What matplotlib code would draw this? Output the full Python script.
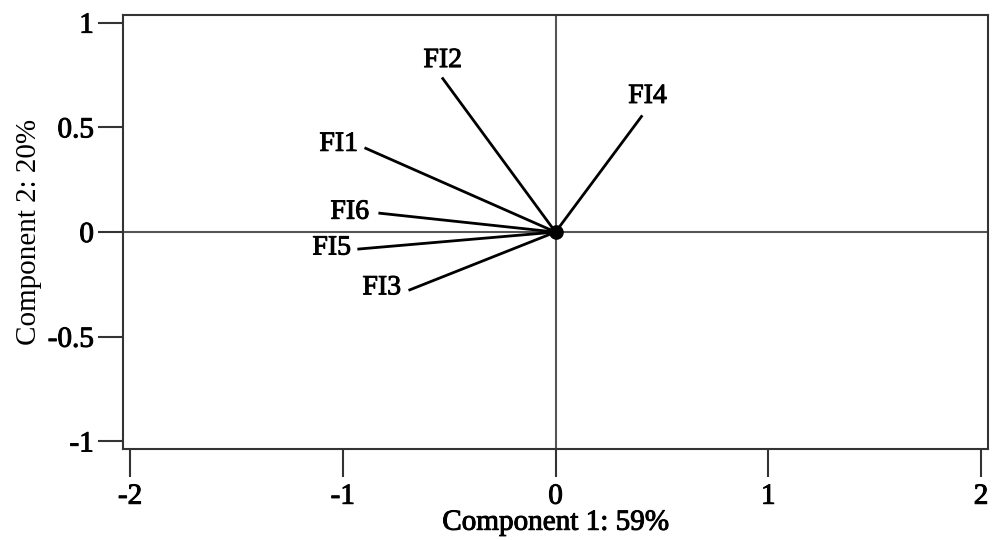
import matplotlib.pyplot as plt
import matplotlib.patheffects as pe

# loadings
names = ['FI1', 'FI2', 'FI3', 'FI4', 'FI5', 'FI6']
comp1 = [-0.892, -0.530, -0.685, 0.404, -0.925, -0.826]
comp2 = [0.400, 0.733, -0.276, 0.552, -0.081, 0.090]

# where each label sits relative to the line end (pixels)
label_offsets = {
    'FI1': (-27, 4),
    'FI2': (0, 18),
    'FI3': (-28, 2),
    'FI4': (6, 20),
    'FI5': (-27, 1),
    'FI6': (-30, 1),
}

plt.rcParams['font.family'] = ['Liberation Serif', 'DejaVu Serif']
heavy = [pe.withStroke(linewidth=0.7, foreground='black')]

fig = plt.figure(figsize=(9.97, 5.4), dpi=100)
ax = fig.add_axes([0.1234, 0.1685, 0.8676, 0.8035])

ax.axhline(0, color='#555555', lw=1.5, zorder=1)
ax.axvline(0, color='#555555', lw=1.5, zorder=1)

for n, x, y in zip(names, comp1, comp2):
    ax.plot([0, x], [0, y], color='black', lw=2, zorder=2)
    ax.annotate(n, (x, y), xytext=label_offsets[n], textcoords='offset pixels',
                ha='center', va='center', fontsize=20, path_effects=heavy)

ax.plot([0], [0], 'o', color='black', markersize=9.5, zorder=3)

ax.set_xlim(-2.033, 2.033)
ax.set_ylim(-1.036, 1.036)
ax.set_xticks([-2, -1, 0, 1, 2])
ax.set_yticks([-1, -0.5, 0, 0.5, 1])
ax.set_xticklabels(['-2', '-1', '0', '1', '2'])
ax.set_yticklabels(['-1', '-0.5', '0', '0.5', '1'])

for s in ax.spines.values():
    s.set_linewidth(1.5)
    s.set_color('#333333')
ax.tick_params(axis='x', direction='out', length=20, width=1.5, color='#333333',
               pad=5, labelsize=21)
ax.tick_params(axis='y', direction='out', length=18, width=1.5, color='#333333',
               pad=3, labelsize=21)
for lab in ax.get_xticklabels() + ax.get_yticklabels():
    lab.set_path_effects(heavy)

ax.set_xlabel('Component 1: 59%', fontsize=21, labelpad=0, path_effects=heavy)
ax.set_ylabel('Component 2: 20%', fontsize=21, labelpad=4)

plt.savefig('out.png', dpi=100)
